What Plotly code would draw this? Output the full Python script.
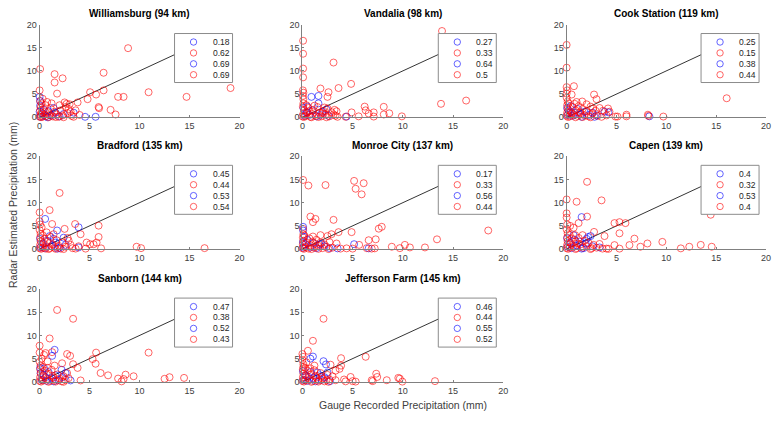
import plotly.graph_objects as go

# ---------------- data ----------------
stations = ["Williamsburg", "Vandalia", "Cook Station", "Bradford",
            "Monroe City", "Capen", "Sanborn", "Jefferson Farm"]
distances_km = [94, 98, 119, 135, 137, 139, 144, 145]

corr_williamsburg = [0.18, 0.62, 0.69, 0.69]
corr_vandalia = [0.27, 0.33, 0.64, 0.5]
corr_cook = [0.25, 0.15, 0.38, 0.44]
corr_bradford = [0.45, 0.44, 0.53, 0.54]
corr_monroe = [0.17, 0.33, 0.56, 0.44]
corr_capen = [0.4, 0.32, 0.53, 0.4]
corr_sanborn = [0.47, 0.38, 0.52, 0.43]
corr_jefferson = [0.46, 0.44, 0.55, 0.52]

will_red = [(8.85,14.9),(0.05,10.4),(1.5,9.3),(1.5,7.5),(2.3,8.4),(1.75,5.1),(6.4,9.6),(5.05,5.4),(4.8,3.9),
            (5.65,4.9),(6.4,5.8),(5.9,2.2),(5.95,1.95),(7.1,1.6),(7.6,0.6),(7.85,4.4),(8.4,4.4),(10.9,5.4),
            (14.7,4.4),(19.1,6.3),(0.0,5.8),(0.75,3.3),
            (0.0,0.1),(0.1,0.5),(0.2,1.0),(0.05,1.5),(0.1,2.2),(0.3,0.1),(0.5,0.6),(0.4,1.8),(0.7,0.3),
            (0.8,1.1),(1.0,0.5),(1.1,2.0),(1.3,0.2),(1.5,1.2),(1.7,0.6),(1.9,0.1),(2.1,1.5),(2.3,0.4),
            (2.6,2.2),(2.8,0.9),(3.0,2.8),(3.2,0.3),(0.2,3.0),(0.6,2.6),(1.2,3.0),(2.0,2.6),(2.7,2.9),
            (3.6,1.5),(0.15,0.05),(0.9,0.0),(1.6,0.05),(2.4,0.0),(3.4,0.1),(0.3,4.0),(3.8,3.2),(2.9,1.8),
            (3.1,1.2),(0.05,3.5),(4.0,0.5),(2.5,3.2)]
will_blue = [(0.0,4.4),(0.05,3.5),(4.55,0.1),(5.6,0.1),(3.4,1.0),(0.1,0.1),(0.3,0.8),(0.6,0.2),(0.9,1.3),
             (1.2,0.4),(1.6,1.0),(2.0,0.2),(0.05,2.5),(0.4,1.6),(1.4,2.0),(0.0,1.2),(2.4,0.7),(0.8,0.0)]

vand_red = [(13.9,18.6),(0.07,16.5),(0.07,13.7),(0.07,10.5),(0.07,8.6),(3.1,11.8),(1.8,6.2),(2.6,5.4),
            (2.5,4.4),(3.6,6.3),(4.85,7.2),(0.05,5.8),(0.1,5.3),(0.05,4.6),(0.1,3.9),(6.2,2.3),(6.3,1.5),
            (6.6,0.8),(7.1,1.05),(7.1,0.15),(8.1,2.25),(8.1,0.6),(8.65,0.85),(9.9,0.2),(13.8,2.9),(16.3,3.6),
            (4.9,1.05),(5.6,0.2),(3.2,1.6),(3.3,0.35),
            (0.0,0.2),(0.1,0.8),(0.2,1.5),(0.05,2.3),(0.1,3.0),(0.3,0.3),(0.5,1.0),(0.6,2.0),(0.8,0.1),
            (1.0,0.7),(1.1,1.6),(1.3,0.3),(1.5,2.2),(1.7,1.0),(1.9,0.2),(2.1,1.4),(2.3,0.6),(2.5,1.9),
            (2.7,0.2),(2.9,1.1),(3.1,0.6),(3.4,1.3),(0.4,2.6),(1.2,2.5),(2.2,2.1),(0.15,0.05),(0.9,0.0),
            (1.6,0.05),(2.4,0.0),(3.5,0.1),(4.3,0.1),(2.0,0.9),(0.7,1.3)]
vand_blue = [(0.9,4.4),(1.6,4.6),(1.6,3.0),(4.4,0.15),(0.4,1.0),(1.0,1.5),(2.0,1.2),(2.4,1.7),(0.2,0.3),
             (0.7,0.5),(1.4,0.2),(0.1,2.0),(1.8,0.5),(2.6,0.3),(0.5,2.3)]

cook_red = [(0.0,15.6),(0.0,10.7),(0.0,6.5),(0.05,5.8),(0.0,5.1),(0.73,6.7),(0.5,4.9),(1.0,3.3),(1.56,3.4),
            (2.75,4.9),(3.0,3.9),(2.0,2.8),(2.65,1.9),(4.15,1.9),(4.3,1.2),(4.9,0.15),(5.1,0.15),(6.0,0.55),
            (6.0,0.2),(8.15,0.55),(8.2,0.3),(9.7,0.15),(16.05,4.1),(3.65,1.4),
            (0.0,0.3),(0.05,1.0),(0.1,1.8),(0.05,2.6),(0.1,3.4),(0.0,4.2),(0.3,0.2),(0.4,1.2),(0.6,2.2),
            (0.7,0.5),(0.9,1.5),(1.1,0.3),(1.2,2.4),(1.4,0.9),(1.6,1.8),(1.8,0.4),(2.0,1.3),(2.2,0.2),
            (2.4,2.3),(2.6,0.8),(2.9,1.4),(3.1,0.3),(3.3,2.0),(0.2,3.0),(0.8,2.9),(0.15,0.05),(0.9,0.0),
            (1.6,0.05),(2.4,0.0),(3.5,0.1),(4.0,0.4),(1.3,1.1),(0.5,0.8)]
cook_blue = [(3.8,1.2),(4.2,1.05),(8.3,0.2),(0.1,0.5),(0.2,1.5),(0.4,2.4),(0.6,0.3),(0.8,1.0),(1.1,1.8),
             (1.4,0.6),(1.8,1.2),(2.2,0.5),(2.6,1.0),(3.0,0.4),(0.05,2.0),(1.5,0.1),(2.8,0.1),(0.3,1.0)]

brad_red = [(0.0,7.9),(0.0,6.0),(0.05,5.3),(2.0,12.1),(1.0,8.4),(1.25,5.4),(3.55,5.4),(4.1,3.2),(2.5,4.35),
            (5.9,5.05),(5.9,2.6),(4.7,1.4),(5.05,1.05),(5.4,1.05),(5.7,1.4),(6.15,0.15),(9.7,0.5),(10.15,0.2),
            (16.5,0.2),(2.9,1.8),(3.9,0.6),(4.6,0.1),
            (0.0,0.2),(0.05,0.9),(0.1,1.7),(0.05,2.5),(0.1,3.3),(0.0,4.1),(0.2,4.7),(0.3,0.3),(0.4,1.3),
            (0.5,2.2),(0.7,0.6),(0.8,1.6),(1.0,0.2),(1.1,2.6),(1.3,1.0),(1.5,0.3),(1.7,1.9),(1.9,0.7),
            (2.1,0.1),(2.3,1.4),(2.6,0.5),(2.8,2.4),(3.1,0.9),(3.3,0.2),(0.3,3.0),(0.7,3.6),(0.15,0.05),
            (0.9,0.0),(1.6,0.05),(2.4,0.0),(3.6,0.1),(1.4,3.2),(0.6,0.1)]
brad_blue = [(0.55,6.5),(1.75,4.0),(3.9,4.7),(1.0,2.8),(2.4,2.45),(3.9,0.35),(0.1,0.4),(0.3,1.2),(0.5,0.2),
             (0.8,1.8),(1.2,0.6),(1.6,1.4),(2.0,0.3),(0.05,2.2),(1.4,2.2),(2.6,0.9),(1.8,0.1)]

monr_red = [(0.07,14.9),(0.6,13.7),(2.3,13.8),(5.15,14.7),(5.3,13.0),(6.1,14.2),(5.9,11.8),(0.8,7.0),
            (1.3,6.5),(1.05,5.8),(3.1,6.3),(3.6,3.65),(2.9,3.2),(2.5,2.8),(1.05,2.7),(1.8,3.0),(4.9,3.65),
            (0.07,4.35),(0.1,3.2),(7.6,4.4),(7.9,4.8),(6.6,1.9),(7.3,2.1),(5.65,0.9),(8.9,0.5),(9.7,0.2),
            (10.2,0.9),(10.7,0.35),(12.2,0.35),(13.4,2.1),(18.5,4.0),(6.9,0.1),(7.2,0.15),(6.4,0.2),
            (5.0,0.1),(4.4,0.15),(3.4,1.2),
            (0.0,0.2),(0.05,1.0),(0.1,1.8),(0.05,2.5),(0.3,0.4),(0.4,1.4),(0.6,0.1),(0.8,0.8),(1.0,1.6),
            (1.2,0.3),(1.4,2.0),(1.6,0.7),(1.8,1.4),(2.0,0.2),(2.2,1.0),(2.4,0.5),(2.7,1.5),(3.0,0.3),
            (0.2,2.9),(0.7,2.3),(0.15,0.05),(0.9,0.0),(1.6,0.05),(2.6,0.0),(3.8,0.1),(1.3,1.1)]
monr_blue = [(0.07,4.8),(0.07,4.0),(1.7,1.0),(1.9,1.2),(5.15,1.05),(6.6,0.15),(3.5,0.15),(0.1,0.3),(0.3,1.0),
             (0.5,2.0),(0.8,0.4),(1.1,1.3),(1.4,0.2),(2.2,0.6),(0.2,2.6),(2.7,0.2),(0.05,1.5)]

capen_red = [(2.05,14.5),(0.0,10.7),(1.0,10.2),(3.5,10.5),(0.0,7.7),(0.0,6.8),(2.05,7.0),(1.2,5.6),
             (0.05,5.3),(0.35,5.0),(0.7,4.6),(2.75,3.7),(3.8,2.8),(4.8,5.6),(5.3,5.8),(5.9,5.6),(5.3,3.4),
             (4.8,0.85),(5.3,0.1),(6.3,0.85),(6.8,2.25),(7.4,0.5),(8.1,1.2),(9.6,1.55),(11.45,0.15),
             (12.3,0.5),(13.45,0.9),(14.45,7.4),(14.55,0.5),(4.0,0.1),(4.2,0.05),(1.6,3.0),(0.85,3.0),
             (0.0,0.2),(0.05,0.9),(0.1,1.7),(0.05,2.5),(0.1,3.4),(0.0,4.2),(0.3,0.3),(0.4,1.3),(0.5,2.3),
             (0.7,0.6),(0.9,1.7),(1.0,0.2),(1.2,2.4),(1.4,1.0),(1.6,0.3),(1.8,1.8),(2.0,0.6),(2.2,1.3),
             (2.5,0.2),(2.7,0.9),(3.0,0.3),(3.3,1.1),(0.3,3.1),(0.15,0.05),(0.9,0.0),(2.4,0.0),(3.6,0.1),
             (1.1,1.2)]
capen_blue = [(1.5,6.9),(2.15,2.6),(2.4,2.8),(3.3,0.35),(0.7,3.0),(1.3,1.6),(1.7,0.2),(0.1,0.5),(0.3,1.4),
              (0.5,0.2),(0.8,2.0),(1.0,0.8),(1.9,1.2),(0.05,2.3),(2.6,0.6),(1.5,0.1),(2.0,2.2)]

sanb_red = [(1.75,15.5),(3.35,13.6),(1.0,9.35),(0.0,7.8),(0.0,6.3),(0.6,6.2),(1.25,6.4),(0.45,5.8),
            (2.75,6.0),(3.05,5.6),(2.25,4.0),(1.5,3.5),(3.35,3.8),(3.8,3.0),(4.1,0.3),(5.3,4.9),(5.65,6.3),
            (5.6,3.9),(6.1,1.9),(6.85,1.4),(7.85,0.7),(8.2,0.1),(8.4,0.6),(8.6,1.55),(9.4,1.2),(10.9,6.3),
            (12.5,0.65),(13.0,1.0),(14.45,0.85),(2.75,1.9),(2.9,0.8),(0.8,4.4),(0.2,5.0),
            (0.0,0.2),(0.05,1.0),(0.1,1.8),(0.05,2.7),(0.1,3.5),(0.0,4.3),(0.3,0.3),(0.4,1.3),(0.5,2.4),
            (0.7,0.6),(0.9,1.7),(1.0,0.2),(1.2,2.6),(1.4,0.9),(1.6,0.3),(1.8,1.6),(2.0,0.7),(2.2,0.1),
            (2.4,1.2),(2.6,0.4),(0.3,3.2),(0.8,3.0),(0.15,0.05),(0.9,0.0),(1.6,0.05),(2.4,0.0),(1.3,1.3)]
sanb_blue = [(1.5,6.9),(1.25,5.6),(2.2,2.6),(2.6,1.9),(0.05,3.0),(0.45,2.9),(3.1,0.3),(0.2,0.4),(0.4,1.5),
             (0.7,0.2),(0.9,2.1),(1.2,0.8),(1.6,1.4),(1.9,0.4),(2.3,1.0),(0.1,1.9),(1.4,0.1),(0.6,1.0)]

jeff_red = [(2.1,13.6),(1.05,8.85),(0.55,6.7),(0.0,6.0),(0.05,5.4),(0.0,4.7),(1.2,3.5),(3.85,5.1),
            (3.85,3.5),(3.7,2.8),(2.8,3.7),(6.3,5.4),(4.8,1.05),(5.0,0.15),(5.3,0.05),(3.3,0.35),(4.15,0.5),
            (6.9,0.35),(7.0,0.15),(7.35,1.75),(7.45,1.05),(8.4,0.35),(9.55,0.85),(9.7,0.7),(9.95,0.05),
            (13.2,0.15),(4.3,0.1),(2.4,0.35),(1.9,1.1),(0.1,3.8),(0.4,4.2),
            (0.0,0.2),(0.05,1.0),(0.1,1.8),(0.05,2.7),(0.1,3.2),(0.3,0.3),(0.4,1.3),(0.5,2.4),(0.7,0.6),
            (0.9,1.7),(1.0,0.2),(1.2,2.5),(1.4,0.9),(1.6,0.3),(1.8,1.9),(2.0,0.7),(2.2,0.1),(2.5,1.5),
            (2.7,0.5),(3.0,1.2),(3.3,2.4),(0.3,3.0),(0.8,2.9),(0.15,0.05),(0.9,0.0),(1.6,0.05),(2.6,0.0),
            (1.3,1.3)]
jeff_blue = [(0.8,5.0),(1.05,5.45),(2.1,4.45),(2.35,3.75),(1.7,1.4),(2.75,0.15),(0.1,0.4),(0.3,1.4),(0.5,0.2),
             (0.8,2.1),(1.1,0.8),(1.5,2.0),(1.9,0.4),(2.2,1.0),(0.05,2.3),(2.5,2.0),(1.3,0.1),(0.6,1.1)]

reds = [will_red, vand_red, cook_red, brad_red, monr_red, capen_red, sanb_red, jeff_red]
blues = [will_blue, vand_blue, cook_blue, brad_blue, monr_blue, capen_blue, sanb_blue, jeff_blue]
corrs = [corr_williamsburg, corr_vandalia, corr_cook, corr_bradford,
         corr_monroe, corr_capen, corr_sanborn, corr_jefferson]

axis_ticks = [0, 5, 10, 15, 20]
one_to_one = [0, 16]

# ---------------- layout ----------------
W, H = 777, 421
col_px = [(37, 239), (302.5, 505.5), (569.5, 771)]
row_px = [(20, 115), (155, 250), (291, 386)]

FONT = "Liberation Sans, Arial, Helvetica, sans-serif"
RED = "rgba(255,0,0,0.6)"
BLUE = "rgba(0,0,255,0.6)"
legend_colors = [BLUE, RED, BLUE, RED]
AX = "#808080"

fig = go.Figure()
layout = dict(width=W, height=H, margin=dict(l=0, r=0, t=0, b=0),
              paper_bgcolor="white", plot_bgcolor="white", showlegend=False,
              font=dict(family=FONT, size=9, color="#404040"))
shapes, annotations = [], []

for i, name in enumerate(stations):
    r, c = divmod(i, 3)
    xa = "x" if i == 0 else f"x{i+1}"
    ya = "y" if i == 0 else f"y{i+1}"
    xk = "xaxis" if i == 0 else f"xaxis{i+1}"
    yk = "yaxis" if i == 0 else f"yaxis{i+1}"
    x0, x1 = col_px[c]
    ytop, ybot = row_px[r]
    layout[xk] = dict(domain=[x0 / W, x1 / W], anchor=ya, range=[0, 20], tickvals=axis_ticks,
                      showline=True, linecolor=AX, linewidth=1, ticks="inside", ticklen=2,
                      tickcolor=AX, showgrid=False, zeroline=False,
                      tickfont=dict(size=9, color="#404040"))
    layout[yk] = dict(domain=[1 - ybot / H, 1 - ytop / H], anchor=xa, range=[0, 20], tickvals=axis_ticks,
                      showline=True, linecolor=AX, linewidth=1, ticks="inside", ticklen=2,
                      tickcolor=AX, showgrid=False, zeroline=False,
                      tickfont=dict(size=9, color="#404040"))

    fig.add_trace(go.Scatter(x=one_to_one, y=one_to_one, mode="lines", xaxis=xa, yaxis=ya,
                             line=dict(color="black", width=0.8), hoverinfo="skip"))
    bx, by = zip(*blues[i])
    fig.add_trace(go.Scatter(x=bx, y=by, mode="markers", xaxis=xa, yaxis=ya, cliponaxis=False,
                             marker=dict(symbol="circle-open", size=7, color=BLUE, line=dict(width=1))))
    rx, ry = zip(*reds[i])
    fig.add_trace(go.Scatter(x=rx, y=ry, mode="markers", xaxis=xa, yaxis=ya, cliponaxis=False,
                             marker=dict(symbol="circle-open", size=7, color=RED, line=dict(width=1))))

    # title
    annotations.append(dict(text=f"<b>{name} ({distances_km[i]} km)</b>", xref=f"{xa} domain",
                            yref=f"{ya} domain", x=0.5, y=1, yshift=11, yanchor="middle",
                            showarrow=False, font=dict(size=10, color="#000000", family=FONT)))

    # legend box (northeast)
    dx = f"{xa} domain"
    dy = f"{ya} domain"
    shapes.append(dict(type="rect", xref=dx, yref=dy, xsizemode="pixel", ysizemode="pixel",
                       xanchor=1, yanchor=1, x0=-65, x1=-7, y0=-58, y1=-9,
                       line=dict(color="#8c8c8c", width=1), fillcolor="white", layer="above"))
    for k, val in enumerate(corrs[i]):
        yc = -17.5 - 10.9 * k
        shapes.append(dict(type="circle", xref=dx, yref=dy, xsizemode="pixel", ysizemode="pixel",
                           xanchor=1, yanchor=1, x0=-46 - 3.2, x1=-46 + 3.2, y0=yc - 3.2, y1=yc + 3.2,
                           line=dict(color=legend_colors[k], width=1), layer="above"))
        annotations.append(dict(text=str(val), xref=dx, yref=dy, x=1, y=1, xshift=-29, yshift=yc,
                                xanchor="left", yanchor="middle", showarrow=False,
                                font=dict(size=8.5, color="#262626", family=FONT)))

annotations.append(dict(text="Gauge Recorded Precipitation (mm)", xref="paper", yref="paper",
                        x=(col_px[1][0] + col_px[1][1]) / 2 / W, y=1 - 410 / H, xanchor="center",
                        yanchor="middle", showarrow=False, font=dict(size=10.5, color="#404040")))
annotations.append(dict(text="Radar Estimated Precipitation (mm)", xref="paper", yref="paper",
                        x=10 / W, y=1 - 205 / H, xanchor="center", yanchor="middle", textangle=-90,
                        showarrow=False, font=dict(size=10.5, color="#404040")))

layout["shapes"] = shapes
layout["annotations"] = annotations
fig.update_layout(**layout)
fig.write_html("out.html")
